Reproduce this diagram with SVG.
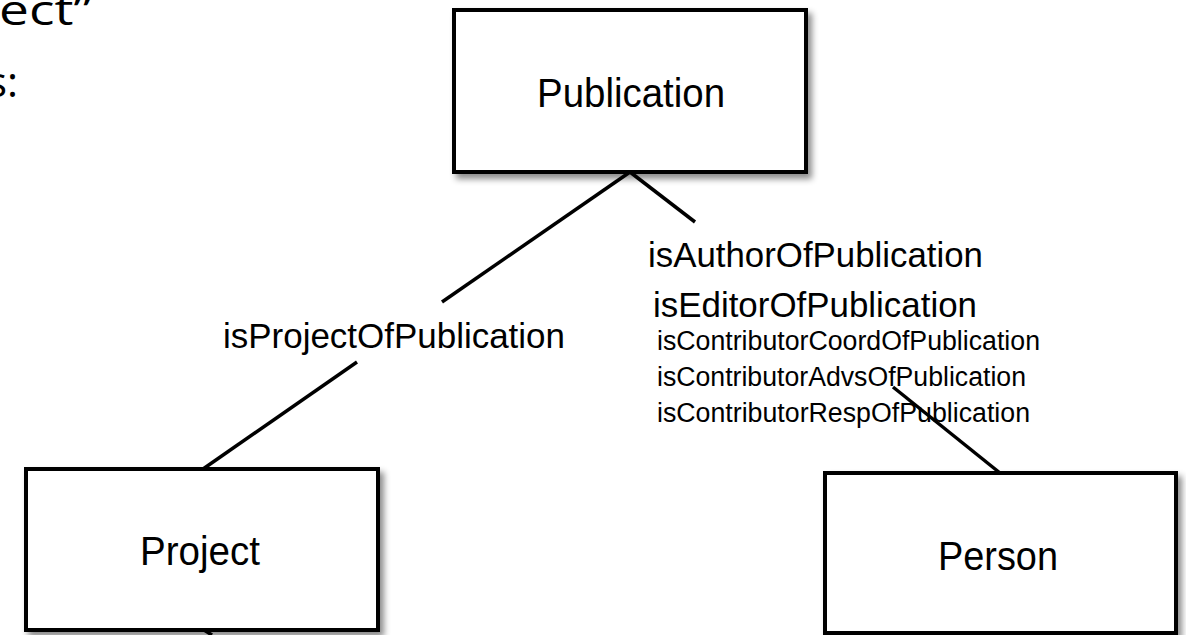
<svg xmlns="http://www.w3.org/2000/svg" width="1186" height="635" viewBox="0 0 1186 635">
  <defs>
    <filter id="shadow" x="-10%" y="-10%" width="125%" height="130%">
      <feDropShadow dx="4" dy="5" stdDeviation="3" flood-color="#000" flood-opacity="0.45"/>
    </filter>
    <style>
      .box { fill: #ffffff; stroke: #000000; stroke-width: 4; }
      .name { font-family: "Liberation Sans", Arial, sans-serif; font-size: 41px; fill: #000; text-anchor: middle; }
      .lbl { font-family: "Liberation Sans", Arial, sans-serif; fill: #000; }
      .big { font-size: 35px; }
      .small { font-size: 27px; }
      .conn { stroke: #000; stroke-width: 3.5; fill: none; }
      .slide { font-family: "Open Sans", "Noto Sans", sans-serif; font-size: 42px; fill: #000; }
    </style>
  </defs>
  <rect width="1186" height="635" fill="#ffffff"/>

  <g id="slide-text">
    <text class="slide" x="-1" y="25" textLength="93" lengthAdjust="spacingAndGlyphs">ect”</text>
    <text class="slide" x="18" y="97" text-anchor="end">s:</text>
  </g>

  <g id="connectors">
    <line class="conn" x1="630" y1="172" x2="442" y2="302"/>
    <line class="conn" x1="357" y1="362" x2="203" y2="469"/>
    <line class="conn" x1="630" y1="172" x2="695" y2="222"/>
    <line class="conn" x1="893" y1="387" x2="1000" y2="473"/>
    <line class="conn" x1="204" y1="630" x2="212" y2="635"/>
  </g>

  <g id="node-publication">
    <rect class="box" x="454" y="10" width="352" height="162" filter="url(#shadow)"/>
    <text class="name" x="631" y="107" textLength="188" lengthAdjust="spacingAndGlyphs">Publication</text>
  </g>

  <g id="node-project">
    <rect class="box" x="26" y="469" width="352" height="161" filter="url(#shadow)"/>
    <text class="name" x="200" y="565" textLength="120" lengthAdjust="spacingAndGlyphs">Project</text>
  </g>

  <g id="node-person">
    <rect class="box" x="825" y="473" width="351" height="160" filter="url(#shadow)"/>
    <text class="name" x="998" y="570" textLength="120" lengthAdjust="spacingAndGlyphs">Person</text>
  </g>

  <g id="labels">
    <text class="lbl big" x="223" y="348" textLength="342" lengthAdjust="spacingAndGlyphs">isProjectOfPublication</text>
    <text class="lbl big" x="648" y="267" textLength="335" lengthAdjust="spacingAndGlyphs">isAuthorOfPublication</text>
    <text class="lbl big" x="653" y="317" textLength="324" lengthAdjust="spacingAndGlyphs">isEditorOfPublication</text>
    <text class="lbl small" x="657" y="350" textLength="383" lengthAdjust="spacingAndGlyphs">isContributorCoordOfPublication</text>
    <text class="lbl small" x="657" y="386" textLength="369" lengthAdjust="spacingAndGlyphs">isContributorAdvsOfPublication</text>
    <text class="lbl small" x="657" y="422" textLength="373" lengthAdjust="spacingAndGlyphs">isContributorRespOfPublication</text>
  </g>
</svg>
